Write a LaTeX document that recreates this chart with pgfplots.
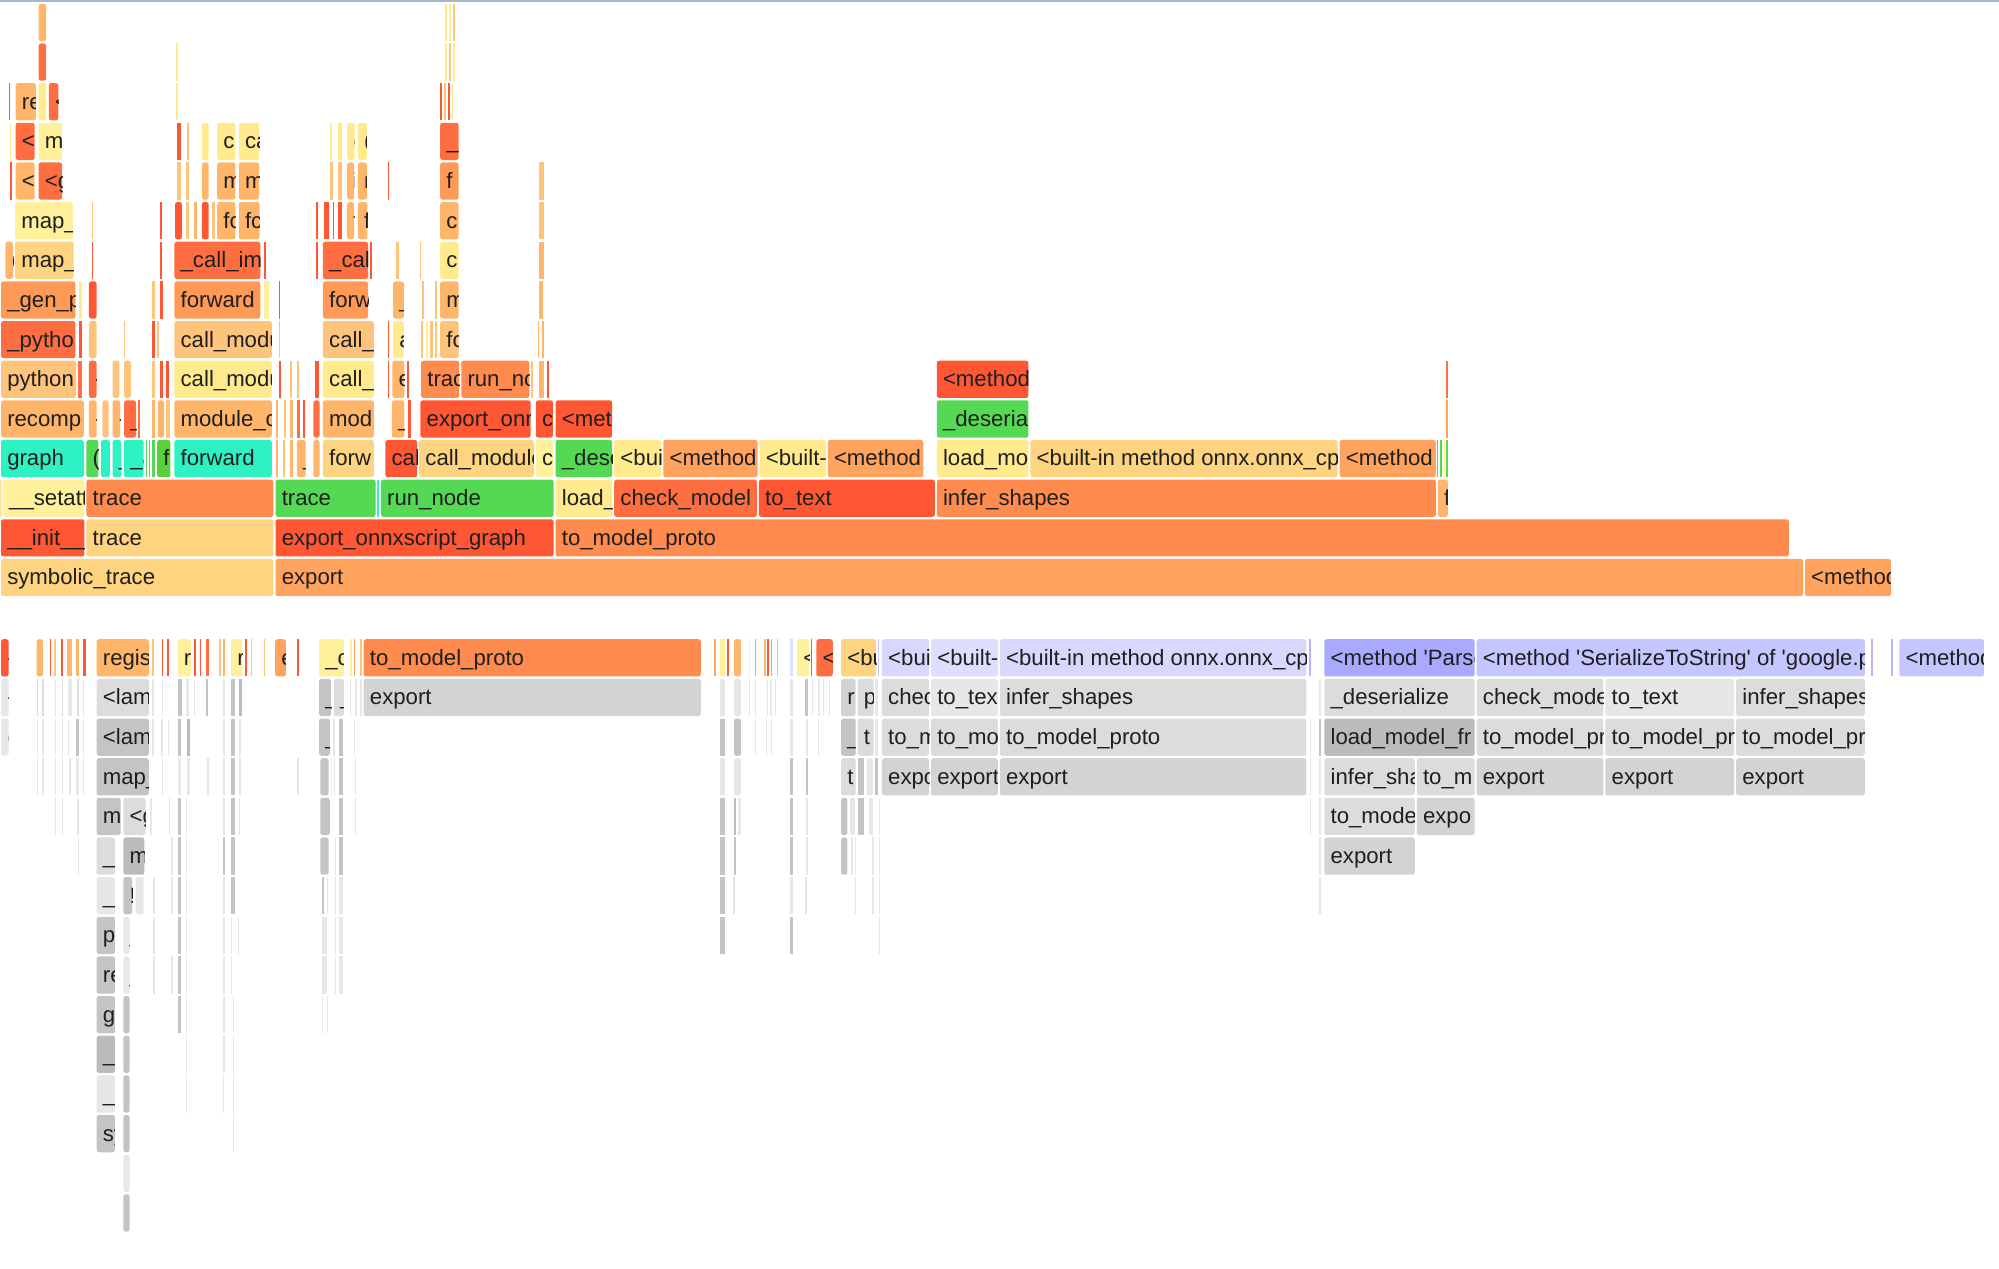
\documentclass[border=0pt]{standalone}
\usepackage{fontspec}
\setmainfont{Liberation Sans}
\usepackage{pgfplots}
\pgfplotsset{compat=1.18}

% flame graph colours
\definecolor{Y}{HTML}{FFEB8E}
\definecolor{YL}{HTML}{FFF09C}
\definecolor{LO}{HTML}{FFD480}
\definecolor{PL}{HTML}{FFC47C}
\definecolor{PO}{HTML}{FFB56A}
\definecolor{O}{HTML}{FFA35E}
\definecolor{O2}{HTML}{FF9A56}
\definecolor{MO}{HTML}{FF8B4F}
\definecolor{RO}{HTML}{FF6E40}
\definecolor{R}{HTML}{FF5733}
\definecolor{G}{HTML}{55D955}
\definecolor{GD}{HTML}{5BCF3C}
\definecolor{AQ}{HTML}{2EF2C4}
\definecolor{L1}{HTML}{D8D8FF}
\definecolor{L1b}{HTML}{DEDEFF}
\definecolor{L2}{HTML}{C5C5FF}
\definecolor{L3}{HTML}{A9A9FF}
\definecolor{L4}{HTML}{B4B4FF}
\definecolor{G1}{HTML}{DCDCDC}
\definecolor{G2}{HTML}{D3D3D3}
\definecolor{G3}{HTML}{C4C4C4}
\definecolor{G4}{HTML}{E7E7E7}
\definecolor{G5}{HTML}{BBBBBB}
\definecolor{edge}{HTML}{A8B8CC}

\tikzset{lab/.style={anchor=base west,inner sep=0pt,font=\fontsize{4.95pt}{6pt}\selectfont,text=black!88}}

% one frame: x0, x1, row centre, colour, label (as far as the frame shows it)
\newcommand\blk[5]{%
  \pgfmathsetmacro\bw{#2-#1}%
  \pgfmathsetmacro\ins{min(0.8,0.2*\bw)}%
  \pgfmathsetmacro\xa{#1+\ins}\pgfmathsetmacro\xb{#2-\ins}%
  \pgfmathsetmacro\ya{#3-14.6}\pgfmathsetmacro\yb{#3+14.6}%
  \pgfmathtruncatemacro\wide{\bw>6}%
  \ifnum\wide=1 \def\rc{rounded corners=0.18mm}\else\def\rc{sharp corners}\fi
  \edef\tmp{\noexpand\addplot[fill=#4,draw=none,forget plot,\rc] coordinates {(\xa,\ya) (\xb,\ya) (\xb,\yb) (\xa,\yb)} -- cycle;}\tmp
  \if\relax\detokenize{#5}\relax\else
    \pgfmathsetmacro\xt{\xa+4.2}\pgfmathsetmacro\yt{#3+5.8}%
    \edef\tmp{\noexpand\pgfplotsextra{\noexpand\begin{scope}\noexpand\clip (axis cs:\xa,\ya) rectangle (axis cs:\xb,\yb);\noexpand\node[lab] at (axis cs:\xt,\yt) {\unexpanded{#5}};\noexpand\end{scope}}}\tmp
  \fi
}
\newcommand\Tp[5]{\pgfmathsetmacro\yc{453-31.1*#3}\blk{#1}{#2}{\yc}{#4}{#5}}
\newcommand\Bt[5]{\pgfmathsetmacro\yc{516+31.1*#3}\blk{#1}{#2}{\yc}{#4}{#5}}

\begin{document}
\begin{tikzpicture}
\begin{axis}[hide axis, scale only axis, width=156.8mm, height=99.5mm,
  xmin=0, xmax=1568, ymin=0, ymax=995, y dir=reverse]

\addplot[color=edge, line width=0.15mm, forget plot] coordinates {(0,0.6) (1568,0.6)};

% ---------- upper flame graph, row 0 at the bottom ----------
\Tp{0}{215.3}{0}{LO}{symbolic\_trace}
\Tp{215.3}{1415}{0}{O}{export}
\Tp{1415}{1484}{0}{O}{<method}

\Tp{0}{67}{1}{R}{\_\_init\_\_}
\Tp{67}{215.3}{1}{LO}{trace}
\Tp{215.3}{435}{1}{R}{export\_onnxscript\_graph}
\Tp{435}{1404}{1}{MO}{to\_model\_proto}

\Tp{0}{1.5}{2}{Y}{}
\Tp{1.5}{67}{2}{YL}{\_\_setatt}
\Tp{67}{215.3}{2}{MO}{trace}
\Tp{215.3}{295.5}{2}{G}{trace}
\Tp{295.5}{298}{2}{AQ}{}
\Tp{298}{435}{2}{G}{run\_node}
\Tp{435}{481}{2}{Y}{load\_}
\Tp{481}{594.5}{2}{RO}{check\_model}
\Tp{594.5}{734}{2}{R}{to\_text}
\Tp{734}{1127}{2}{MO}{infer\_shapes}
\Tp{1127}{1136.5}{2}{PO}{f}

\Tp{0}{66.5}{3}{AQ}{graph}
\Tp{67}{78}{3}{G}{(}
\Tp{78.5}{87}{3}{AQ}{}
\Tp{87.5}{96}{3}{AQ}{\_}
\Tp{96.5}{113.5}{3}{AQ}{\_a}
\Tp{114}{116}{3}{G}{}
\Tp{116.5}{118}{3}{G}{}
\Tp{118.5}{122.5}{3}{G}{}
\Tp{122.5}{134.5}{3}{GD}{f}
\Tp{136}{214}{3}{AQ}{forward}
\Tp{215.5}{219}{3}{PO}{}
\Tp{221}{224.5}{3}{PL}{}
\Tp{226.5}{231}{3}{PO}{}
\Tp{232}{240.5}{3}{PO}{\_}
\Tp{245}{251.5}{3}{PO}{}
\Tp{252.5}{294}{3}{LO}{forw}
\Tp{301.5}{328}{3}{R}{cal}
\Tp{328}{419.5}{3}{LO}{call\_module}
\Tp{419.5}{434.5}{3}{YL}{c}
\Tp{435}{481}{3}{G}{\_dese}
\Tp{481}{519.5}{3}{Y}{<bui}
\Tp{519.5}{595}{3}{O}{<method}
\Tp{595}{648.5}{3}{Y}{<built-}
\Tp{648.5}{725}{3}{O}{<method}
\Tp{734}{807.5}{3}{Y}{load\_mo}
\Tp{807.5}{1050}{3}{LO}{<built-in method onnx.onnx\_cp}
\Tp{1050}{1127}{3}{O}{<method}
\Tp{1127}{1128.5}{3}{G}{}
\Tp{1129.5}{1131}{3}{G}{}
\Tp{1132}{1134}{3}{YL}{}
\Tp{1134}{1136.5}{3}{G}{}

\Tp{0}{66.5}{4}{PO}{recomp}
\Tp{69}{76.5}{4}{PO}{-}
\Tp{79.5}{86}{4}{PL}{}
\Tp{87.5}{95}{4}{PO}{-}
\Tp{96.5}{107.5}{4}{RO}{\_}
\Tp{107.5}{110}{4}{RO}{}
\Tp{118.5}{122}{4}{PO}{}
\Tp{123}{129.5}{4}{PO}{}
\Tp{129.5}{134}{4}{PL}{}
\Tp{136}{214}{4}{PO}{module\_c}
\Tp{216}{219}{4}{PO}{}
\Tp{222}{225}{4}{PL}{}
\Tp{227}{231}{4}{PO}{}
\Tp{232}{236}{4}{RO}{}
\Tp{237}{239.5}{4}{R}{}
\Tp{245}{251.5}{4}{RO}{}
\Tp{252.5}{294}{4}{PO}{mod}
\Tp{306.5}{318}{4}{PO}{\_}
\Tp{319.5}{323}{4}{R}{}
\Tp{329}{417}{4}{R}{export\_onn}
\Tp{419.5}{434.5}{4}{R}{c}
\Tp{435}{481}{4}{R}{<meth}
\Tp{734}{807.5}{4}{G}{\_deserial}
\Tp{1134}{1136.5}{4}{O}{}

\Tp{0}{60.5}{5}{PL}{python}
\Tp{60.5}{65.5}{5}{RO}{}
\Tp{69}{76.5}{5}{RO}{-}
\Tp{87.5}{94.5}{5}{PL}{}
\Tp{96.5}{103.5}{5}{PL}{}
\Tp{118.5}{122}{5}{PL}{}
\Tp{125}{128.5}{5}{R}{}
\Tp{129.5}{133}{5}{R}{}
\Tp{136}{214}{5}{Y}{call\_modu}
\Tp{218}{221}{5}{R}{}
\Tp{227}{229.5}{5}{PL}{}
\Tp{232.5}{235}{5}{PL}{}
\Tp{246.5}{251}{5}{R}{}
\Tp{252.5}{294}{5}{Y}{call\_}
\Tp{304}{305.5}{5}{R}{}
\Tp{307}{318}{5}{PO}{e}
\Tp{319}{321}{5}{R}{}
\Tp{329.5}{361}{5}{MO}{trac}
\Tp{361}{416}{5}{MO}{run\_no}
\Tp{416.5}{418}{5}{PL}{}
\Tp{422}{427.5}{5}{PO}{}
\Tp{429}{431}{5}{R}{}
\Tp{734}{807.5}{5}{R}{<method}
\Tp{1134}{1136.5}{5}{RO}{}

\Tp{0}{60}{6}{RO}{\_pytho}
\Tp{61}{65}{6}{R}{}
\Tp{69}{76.5}{6}{PL}{}
\Tp{96.5}{98.5}{6}{PL}{}
\Tp{118.5}{122}{6}{R}{}
\Tp{122.5}{125.5}{6}{PL}{}
\Tp{136}{214}{6}{PL}{call\_modu}
\Tp{218}{220.5}{6}{PL}{}
\Tp{252.5}{294}{6}{PL}{call\_}
\Tp{304}{305.5}{6}{R}{}
\Tp{307.5}{317.5}{6}{Y}{a}
\Tp{330}{332.5}{6}{PL}{}
\Tp{333.5}{336}{6}{YL}{}
\Tp{337}{340}{6}{PL}{}
\Tp{341}{343.5}{6}{PL}{}
\Tp{344.5}{360.5}{6}{PL}{fc}
\Tp{421.5}{423.5}{6}{PO}{}
\Tp{424.5}{427}{6}{PO}{}

\Tp{0}{60}{7}{O2}{\_gen\_p}
\Tp{61}{65.5}{7}{Y}{}
\Tp{69}{76.5}{7}{R}{}
\Tp{118.5}{122}{7}{PL}{}
\Tp{125}{128.5}{7}{R}{}
\Tp{136}{205}{7}{O2}{forward}
\Tp{206}{212}{7}{YL}{}
\Tp{218}{220.5}{7}{R}{}
\Tp{252.5}{289.5}{7}{O2}{forw}
\Tp{307.5}{317.5}{7}{PO}{\_}
\Tp{330.5}{333}{7}{PL}{}
\Tp{341}{343.5}{7}{PL}{}
\Tp{344.5}{360.5}{7}{PO}{m}
\Tp{422}{427}{7}{PO}{}

\Tp{3.5}{11}{8}{PO}{(}
\Tp{11}{58.5}{8}{LO}{map\_}
\Tp{71.5}{73.5}{8}{R}{}
\Tp{125}{127.5}{8}{R}{}
\Tp{136}{205}{8}{RO}{\_call\_imp}
\Tp{206}{209.5}{8}{R}{}
\Tp{247.5}{249.5}{8}{R}{}
\Tp{252.5}{289.5}{8}{RO}{\_cal}
\Tp{290}{292.5}{8}{R}{}
\Tp{309.5}{313.5}{8}{PL}{}
\Tp{329}{331}{8}{PL}{}
\Tp{344.5}{360.5}{8}{Y}{c}
\Tp{422}{427.5}{8}{PO}{}

\Tp{11}{58}{9}{YL}{map\_}
\Tp{71.5}{73}{9}{PL}{}
\Tp{125}{127.5}{9}{R}{}
\Tp{136.5}{143.5}{9}{R}{}
\Tp{145.5}{149}{9}{PL}{}
\Tp{151}{155.5}{9}{PO}{}
\Tp{157.5}{164.5}{9}{R}{}
\Tp{165.5}{169}{9}{PL}{}
\Tp{169.5}{185.5}{9}{PO}{fc}
\Tp{186.5}{204.5}{9}{PO}{fc}
\Tp{247.5}{249.5}{9}{R}{}
\Tp{253.5}{258.5}{9}{R}{}
\Tp{260.5}{262.5}{9}{R}{}
\Tp{264.5}{269}{9}{R}{}
\Tp{271.5}{278.5}{9}{PO}{f}
\Tp{280}{289}{9}{PO}{f}
\Tp{344.5}{360.5}{9}{PO}{c}
\Tp{422}{427.5}{9}{PL}{}

\Tp{7.5}{9.5}{10}{R}{}
\Tp{11.5}{28}{10}{PO}{<l}
\Tp{29.5}{49.5}{10}{RO}{<g}
\Tp{138}{142.5}{10}{PL}{}
\Tp{145}{149}{10}{PL}{}
\Tp{157.5}{164.5}{10}{PO}{i}
\Tp{169.5}{185.5}{10}{PO}{m}
\Tp{186.5}{204}{10}{PO}{m}
\Tp{258.5}{261.5}{10}{PL}{}
\Tp{264.5}{269}{10}{PL}{}
\Tp{271.5}{278.5}{10}{PO}{i}
\Tp{280}{288.5}{10}{PO}{r}
\Tp{304}{305.5}{10}{R}{}
\Tp{344.5}{360.5}{10}{O2}{f}
\Tp{422}{427.5}{10}{PL}{}

\Tp{7.5}{9}{11}{Y}{}
\Tp{11.5}{28}{11}{RO}{<l}
\Tp{29.5}{49.5}{11}{YL}{m}
\Tp{138}{142.5}{11}{R}{}
\Tp{146}{148.5}{11}{PL}{}
\Tp{157.5}{164.5}{11}{Y}{(}
\Tp{169.5}{185.5}{11}{Y}{c}
\Tp{186.5}{204}{11}{Y}{ca}
\Tp{258.5}{261}{11}{Y}{}
\Tp{264.5}{269}{11}{Y}{}
\Tp{271.5}{279}{11}{Y}{(}
\Tp{280}{288.5}{11}{Y}{(}
\Tp{344.5}{360.5}{11}{RO}{\_}

\Tp{6.5}{8.5}{12}{R}{}
\Tp{11.5}{29}{12}{PO}{re}
\Tp{29.5}{37}{12}{Y}{}
\Tp{37.5}{46.5}{12}{RO}{<}
\Tp{138}{140}{12}{Y}{}
\Tp{345}{347}{12}{R}{}
\Tp{348}{350}{12}{PL}{}
\Tp{351}{353}{12}{R}{}
\Tp{354}{356}{12}{Y}{}

\Tp{29.5}{37}{13}{RO}{}
\Tp{138}{140}{13}{Y}{}
\Tp{349}{351}{13}{Y}{}
\Tp{352}{354}{13}{PL}{}
\Tp{355}{357}{13}{Y}{}

\Tp{29.5}{37}{14}{PO}{}
\Tp{349}{351}{14}{Y}{}
\Tp{352}{354}{14}{Y}{}
\Tp{355}{357}{14}{PL}{}

% ---------- lower icicle graph, row 0 at the top ----------
\Bt{0}{7.5}{0}{R}{-}
\Bt{28}{34.5}{0}{PO}{}
\Bt{38.5}{40.5}{0}{R}{}
\Bt{42}{44.5}{0}{PL}{}
\Bt{47.5}{50}{0}{R}{}
\Bt{52}{57.5}{0}{PO}{}
\Bt{59}{62.5}{0}{PO}{}
\Bt{64.5}{68}{0}{R}{}
\Bt{75}{117.5}{0}{PO}{regis}
\Bt{119}{121.5}{0}{PL}{}
\Bt{126.5}{128}{0}{R}{}
\Bt{130.5}{133.5}{0}{R}{}
\Bt{138.5}{150.5}{0}{YL}{r}
\Bt{151.5}{154}{0}{R}{}
\Bt{156.5}{158}{0}{R}{}
\Bt{160.5}{164.5}{0}{RO}{}
\Bt{171}{174}{0}{PL}{}
\Bt{174.5}{177}{0}{PO}{}
\Bt{180.5}{191}{0}{YL}{r}
\Bt{192}{194}{0}{R}{}
\Bt{196}{198.5}{0}{PL}{}
\Bt{206.5}{208}{0}{PL}{}
\Bt{215}{225}{0}{O}{e}
\Bt{232.5}{235.5}{0}{R}{}
\Bt{249.5}{270.5}{0}{YL}{\_c}
\Bt{274}{276.5}{0}{YL}{}
\Bt{277}{279}{0}{O}{}
\Bt{282}{284}{0}{PL}{}
\Bt{284.5}{550.5}{0}{MO}{to\_model\_proto}
\Bt{560}{562}{0}{O}{}
\Bt{564}{569.5}{0}{YL}{}
\Bt{570}{572}{0}{R}{}
\Bt{575}{582}{0}{PO}{(}
\Bt{587}{588.5}{0}{YL}{}
\Bt{592}{593.5}{0}{O}{}
\Bt{598.5}{601}{0}{PO}{}
\Bt{601.5}{603.5}{0}{R}{}
\Bt{604.5}{606}{0}{O}{}
\Bt{609}{611}{0}{PL}{}
\Bt{619}{623}{0}{L1b}{}
\Bt{624.5}{635.5}{0}{YL}{<}
\Bt{636}{637.5}{0}{R}{}
\Bt{639.5}{654}{0}{RO}{<}
\Bt{659}{688}{0}{LO}{<bu}
\Bt{688.5}{690}{0}{L2}{}
\Bt{691}{729.5}{0}{L1}{<bui}
\Bt{729.5}{783.5}{0}{L1b}{<built-}
\Bt{783.5}{1025.5}{0}{L1}{<built-in method onnx.onnx\_cp}
\Bt{1026}{1029}{0}{L4}{}
\Bt{1038}{1157.5}{0}{L3}{<method \textquotesingle Parse}
\Bt{1157.5}{1463.5}{0}{L2}{<method \textquotesingle SerializeToString\textquotesingle\ of \textquotesingle google.p}
\Bt{1467}{1469.5}{0}{L4}{}
\Bt{1482.5}{1485}{0}{L4}{}
\Bt{1489}{1557}{0}{L2}{<method}

\Bt{0}{7.5}{1}{G4}{-}
\Bt{28.5}{30}{1}{G1}{}
\Bt{33}{34.5}{1}{G1}{}
\Bt{43}{44.5}{1}{G4}{}
\Bt{48}{49.5}{1}{G1}{}
\Bt{52.5}{57.5}{1}{G4}{}
\Bt{59.5}{62.5}{1}{G1}{}
\Bt{64.5}{66.5}{1}{G4}{}
\Bt{75}{117.5}{1}{G1}{<lamb}
\Bt{119}{121}{1}{G4}{}
\Bt{127}{128.5}{1}{G4}{}
\Bt{138.5}{143.5}{1}{G3}{}
\Bt{145}{149}{1}{G4}{}
\Bt{151.5}{153}{1}{G4}{}
\Bt{161}{164}{1}{G3}{}
\Bt{174.5}{177}{1}{G4}{}
\Bt{180.5}{185.5}{1}{G3}{}
\Bt{186.5}{191}{1}{G5}{}
\Bt{249.5}{260.5}{1}{G3}{\_}
\Bt{261}{270.5}{1}{G1}{\_}
\Bt{274}{276}{1}{G4}{}
\Bt{278.5}{280}{1}{G4}{}
\Bt{282}{284}{1}{G4}{}
\Bt{284.5}{550.5}{1}{G2}{export}
\Bt{564}{569.5}{1}{G4}{}
\Bt{575}{582}{1}{G4}{.}
\Bt{587}{588.5}{1}{G4}{}
\Bt{592}{593.5}{1}{G4}{}
\Bt{601}{602.5}{1}{G4}{}
\Bt{604}{605.5}{1}{G4}{}
\Bt{607.5}{609}{1}{G4}{}
\Bt{619}{623}{1}{G4}{}
\Bt{631}{634.5}{1}{G3}{}
\Bt{636.5}{638}{1}{G4}{}
\Bt{641.5}{643.5}{1}{G4}{}
\Bt{645}{646.5}{1}{G4}{}
\Bt{650}{651.5}{1}{G4}{}
\Bt{659}{672}{1}{G2}{r}
\Bt{672}{686}{1}{G1}{p}
\Bt{686}{689}{1}{G4}{}
\Bt{691}{729.5}{1}{G1}{chec}
\Bt{729.5}{783.5}{1}{G4}{to\_tex}
\Bt{783.5}{1025.5}{1}{G1}{infer\_shapes}
\Bt{1034.5}{1036.5}{1}{G4}{}
\Bt{1038}{1157.5}{1}{G1}{\_deserialize}
\Bt{1157.5}{1258.5}{1}{G1}{check\_mode}
\Bt{1258.5}{1361}{1}{G4}{to\_text}
\Bt{1361}{1463.5}{1}{G1}{infer\_shapes}

\Bt{0}{7.5}{2}{G4}{(}
\Bt{28.5}{30}{2}{G4}{}
\Bt{33}{34.5}{2}{G4}{}
\Bt{43}{44.5}{2}{G4}{}
\Bt{48}{49.5}{2}{G4}{}
\Bt{52.5}{55}{2}{G4}{}
\Bt{59}{62.5}{2}{G3}{}
\Bt{64.5}{66}{2}{G4}{}
\Bt{75}{117.5}{2}{G3}{<lamb}
\Bt{119}{121}{2}{G4}{}
\Bt{126}{128}{2}{G4}{}
\Bt{131.5}{133}{2}{G4}{}
\Bt{138.5}{142.5}{2}{G3}{}
\Bt{145.5}{149.5}{2}{G5}{}
\Bt{174.5}{177}{2}{G4}{}
\Bt{180.5}{185.5}{2}{G3}{}
\Bt{186.5}{190}{2}{G4}{}
\Bt{249.5}{259.5}{2}{G3}{\_}
\Bt{261}{263}{2}{G4}{}
\Bt{265}{270}{2}{G3}{}
\Bt{277}{278.5}{2}{G4}{}
\Bt{564}{569.5}{2}{G3}{}
\Bt{575}{582}{2}{G3}{.}
\Bt{592}{593.5}{2}{G4}{}
\Bt{601}{602}{2}{G4}{}
\Bt{604.5}{606}{2}{G4}{}
\Bt{619}{623}{2}{G4}{}
\Bt{631.5}{634}{2}{G4}{}
\Bt{641.5}{643}{2}{G4}{}
\Bt{659}{672}{2}{G3}{\_}
\Bt{672}{686}{2}{G1}{t}
\Bt{686}{689}{2}{G4}{}
\Bt{691}{729.5}{2}{G1}{to\_m}
\Bt{729.5}{783.5}{2}{G1}{to\_mo}
\Bt{783.5}{1025.5}{2}{G1}{to\_model\_proto}
\Bt{1027}{1029}{2}{G4}{}
\Bt{1034.5}{1036.5}{2}{G3}{}
\Bt{1038}{1157.5}{2}{G5}{load\_model\_fr}
\Bt{1157.5}{1258.5}{2}{G1}{to\_model\_pr}
\Bt{1258.5}{1361}{2}{G1}{to\_model\_pr}
\Bt{1361}{1463.5}{2}{G1}{to\_model\_pr}

\Bt{28.5}{30}{3}{G4}{}
\Bt{33}{34.5}{3}{G4}{}
\Bt{43}{44.5}{3}{G4}{}
\Bt{48}{49.5}{3}{G4}{}
\Bt{54}{56}{3}{G4}{}
\Bt{59}{62.5}{3}{G4}{}
\Bt{64.5}{66}{3}{G4}{}
\Bt{75}{117.5}{3}{G3}{map\_}
\Bt{127}{128.5}{3}{G4}{}
\Bt{138.5}{142.5}{3}{G4}{}
\Bt{145.5}{149.5}{3}{G4}{}
\Bt{162}{164}{3}{G4}{}
\Bt{174.5}{177}{3}{G4}{}
\Bt{180.5}{185.5}{3}{G3}{}
\Bt{186.5}{190}{3}{G4}{}
\Bt{233}{234.5}{3}{G4}{}
\Bt{250.5}{258.5}{3}{G3}{}
\Bt{259}{260.5}{3}{G4}{}
\Bt{261.5}{263}{3}{G4}{}
\Bt{265}{270}{3}{G3}{}
\Bt{278}{279.5}{3}{G4}{}
\Bt{564}{569.5}{3}{G4}{}
\Bt{575}{582}{3}{G4}{-}
\Bt{619}{623}{3}{G3}{}
\Bt{631.5}{634}{3}{G3}{}
\Bt{659}{672}{3}{G1}{t}
\Bt{672.5}{678.5}{3}{G3}{}
\Bt{679}{685.5}{3}{G4}{}
\Bt{686}{689}{3}{G3}{}
\Bt{691}{729.5}{3}{G2}{expo}
\Bt{729.5}{783.5}{3}{G2}{export}
\Bt{783.5}{1025.5}{3}{G2}{export}
\Bt{1027}{1029}{3}{G4}{}
\Bt{1034.5}{1036.5}{3}{G4}{}
\Bt{1038}{1110.5}{3}{G1}{infer\_sha}
\Bt{1110.5}{1157.5}{3}{G1}{to\_m}
\Bt{1157.5}{1258.5}{3}{G2}{export}
\Bt{1258.5}{1361}{3}{G2}{export}
\Bt{1361}{1463.5}{3}{G2}{export}

\Bt{43}{44.5}{4}{G4}{}
\Bt{48}{49.5}{4}{G4}{}
\Bt{60}{62.5}{4}{G4}{}
\Bt{75}{95.5}{4}{G3}{m}
\Bt{96}{115}{4}{G1}{<g}
\Bt{117.5}{120}{4}{G4}{}
\Bt{132}{134}{4}{G4}{}
\Bt{138.5}{142.5}{4}{G3}{}
\Bt{145.5}{147}{4}{G4}{}
\Bt{174.5}{177}{4}{G4}{}
\Bt{180.5}{185.5}{4}{G3}{}
\Bt{187}{188.5}{4}{G4}{}
\Bt{250.5}{259.5}{4}{G3}{}
\Bt{265}{270}{4}{G3}{}
\Bt{278}{279.5}{4}{G4}{}
\Bt{564}{569.5}{4}{G3}{}
\Bt{575}{578}{4}{G5}{}
\Bt{578.5}{582}{4}{G4}{}
\Bt{619}{623}{4}{G3}{}
\Bt{631.5}{634}{4}{G4}{}
\Bt{659}{665.5}{4}{G3}{}
\Bt{666}{671.5}{4}{G4}{}
\Bt{672.5}{678.5}{4}{G3}{}
\Bt{681}{685.5}{4}{G4}{}
\Bt{689}{690.5}{4}{G4}{}
\Bt{1027}{1029}{4}{G4}{}
\Bt{1034.5}{1036.5}{4}{G4}{}
\Bt{1038}{1110.5}{4}{G1}{to\_mode}
\Bt{1110.5}{1157.5}{4}{G2}{expo}

\Bt{61}{62.5}{5}{G4}{}
\Bt{75}{91}{5}{G1}{\_}
\Bt{96}{114}{5}{G5}{m}
\Bt{134}{136}{5}{G4}{}
\Bt{138.5}{142.5}{5}{G3}{}
\Bt{145.5}{147}{5}{G4}{}
\Bt{174.5}{176.5}{5}{G3}{}
\Bt{180.5}{185.5}{5}{G3}{}
\Bt{250.5}{258.5}{5}{G3}{}
\Bt{262.5}{264}{5}{G4}{}
\Bt{265}{270}{5}{G3}{}
\Bt{564}{569.5}{5}{G3}{}
\Bt{575}{578}{5}{G3}{}
\Bt{619}{623}{5}{G3}{}
\Bt{631.5}{634}{5}{G4}{}
\Bt{659}{665.5}{5}{G3}{}
\Bt{667.5}{669}{5}{G4}{}
\Bt{670}{671.5}{5}{G4}{}
\Bt{684}{685.5}{5}{G4}{}
\Bt{689}{690.5}{5}{G4}{}
\Bt{1034.5}{1036.5}{5}{G4}{}
\Bt{1038}{1110.5}{5}{G2}{export}

\Bt{75}{91}{6}{G4}{\_|}
\Bt{96}{104.5}{6}{G3}{!}
\Bt{105.5}{113.5}{6}{G4}{}
\Bt{120}{121.5}{6}{G4}{}
\Bt{134}{136}{6}{G4}{}
\Bt{138.5}{142.5}{6}{G3}{}
\Bt{145.5}{147}{6}{G4}{}
\Bt{174.5}{176.5}{6}{G4}{}
\Bt{180.5}{185.5}{6}{G3}{}
\Bt{252}{255}{6}{G3}{}
\Bt{256}{257.5}{6}{G4}{}
\Bt{262}{264}{6}{G4}{}
\Bt{265}{270}{6}{G4}{}
\Bt{564}{569.5}{6}{G3}{}
\Bt{575}{576.5}{6}{G4}{}
\Bt{619}{623}{6}{G4}{}
\Bt{631.5}{633}{6}{G4}{}
\Bt{670}{671.5}{6}{G4}{}
\Bt{684}{685.5}{6}{G4}{}
\Bt{689}{690.5}{6}{G4}{}
\Bt{1034.5}{1036.5}{6}{G4}{}

\Bt{75}{91}{7}{G3}{p}
\Bt{96}{102.5}{7}{G4}{\_}
\Bt{120}{121.5}{7}{G4}{}
\Bt{138.5}{142.5}{7}{G3}{}
\Bt{145.5}{147}{7}{G4}{}
\Bt{174.5}{176.5}{7}{G4}{}
\Bt{180.5}{182}{7}{G4}{}
\Bt{186.5}{188}{7}{G4}{}
\Bt{252}{257.5}{7}{G4}{}
\Bt{262}{264}{7}{G4}{}
\Bt{265}{270}{7}{G4}{}
\Bt{564}{569.5}{7}{G3}{}
\Bt{619}{623}{7}{G3}{}
\Bt{689}{690.5}{7}{G4}{}

\Bt{75}{91}{8}{G3}{re}
\Bt{96}{102.5}{8}{G4}{\_}
\Bt{120}{121.5}{8}{G4}{}
\Bt{134}{136}{8}{G4}{}
\Bt{138.5}{142.5}{8}{G3}{}
\Bt{145.5}{147}{8}{G4}{}
\Bt{174.5}{176.5}{8}{G4}{}
\Bt{180.5}{182}{8}{G4}{}
\Bt{252}{257.5}{8}{G4}{}
\Bt{262}{264}{8}{G4}{}
\Bt{265}{270}{8}{G4}{}

\Bt{75}{91}{9}{G3}{g}
\Bt{96}{102.5}{9}{G3}{}
\Bt{138.5}{142.5}{9}{G3}{}
\Bt{145.5}{147}{9}{G4}{}
\Bt{174.5}{176.5}{9}{G4}{}
\Bt{182.5}{184}{9}{G4}{}
\Bt{252}{254}{9}{G4}{}
\Bt{256}{258}{9}{G4}{}

\Bt{75}{91}{10}{G5}{\_}
\Bt{96}{102.5}{10}{G3}{}
\Bt{145.5}{147}{10}{G4}{}
\Bt{174.5}{176.5}{10}{G4}{}
\Bt{182.5}{184}{10}{G4}{}

\Bt{75}{91}{11}{G4}{\_}
\Bt{96}{102.5}{11}{G3}{}
\Bt{145.5}{147}{11}{G4}{}
\Bt{174.5}{176}{11}{G4}{}
\Bt{182.5}{184}{11}{G4}{}

\Bt{75}{91}{12}{G3}{sy}
\Bt{96}{102.5}{12}{G3}{}
\Bt{182.5}{184}{12}{G4}{}

\Bt{96}{102.5}{13}{G4}{}
\Bt{96}{102.5}{14}{G3}{}

\end{axis}
\pgfresetboundingbox
\path (current axis.south west) rectangle (current axis.north east);
\end{tikzpicture}
\end{document}
